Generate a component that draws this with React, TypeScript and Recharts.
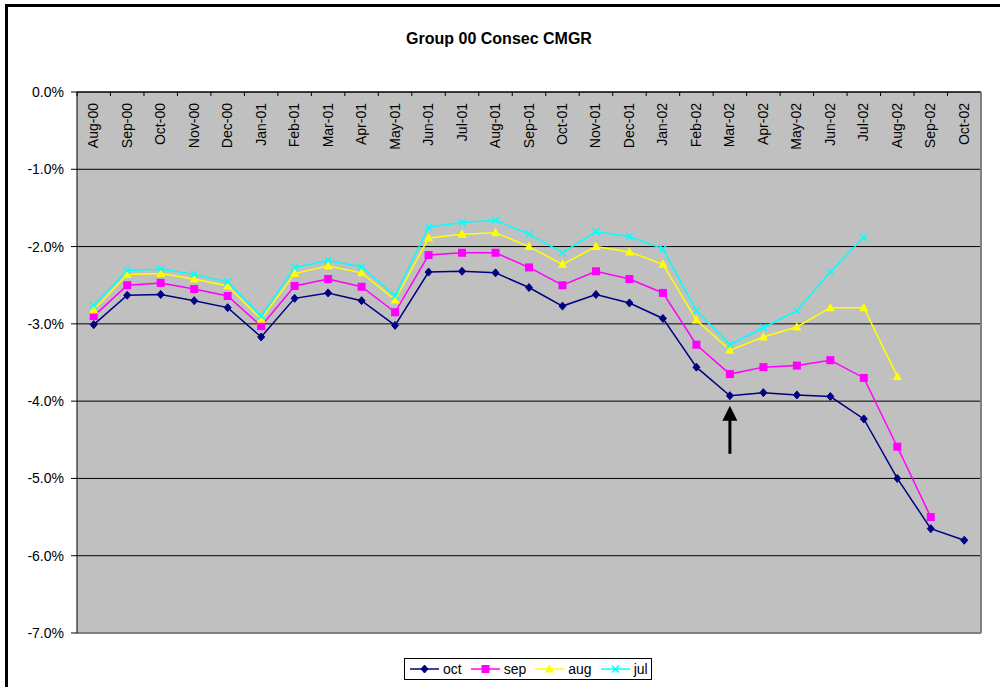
import React from 'react';
import {
  LineChart,
  Line,
  XAxis,
  YAxis,
  CartesianGrid,
  ReferenceLine,
  ReferenceDot,
} from 'recharts';

const months = [
  'Aug-00', 'Sep-00', 'Oct-00', 'Nov-00', 'Dec-00', 'Jan-01', 'Feb-01', 'Mar-01', 'Apr-01',
  'May-01', 'Jun-01', 'Jul-01', 'Aug-01', 'Sep-01', 'Oct-01', 'Nov-01', 'Dec-01', 'Jan-02',
  'Feb-02', 'Mar-02', 'Apr-02', 'May-02', 'Jun-02', 'Jul-02', 'Aug-02', 'Sep-02', 'Oct-02',
];

// CMGR in percent
const octValues = [
  -3.01, -2.63, -2.62, -2.70, -2.79, -3.17, -2.67, -2.60, -2.70, -3.02, -2.33, -2.32, -2.34,
  -2.53, -2.77, -2.62, -2.73, -2.93, -3.56, -3.93, -3.89, -3.92, -3.94, -4.23, -5.00, -5.65, -5.80,
];
const sepValues = [
  -2.90, -2.50, -2.47, -2.55, -2.64, -3.03, -2.51, -2.42, -2.52, -2.85, -2.11, -2.08, -2.08,
  -2.27, -2.50, -2.32, -2.42, -2.60, -3.27, -3.65, -3.56, -3.54, -3.47, -3.70, -4.59, -5.50, null,
];
const augValues = [
  -2.82, -2.36, -2.35, -2.42, -2.51, -2.94, -2.35, -2.25, -2.34, -2.69, -1.89, -1.84, -1.82,
  -2.00, -2.23, -2.00, -2.07, -2.23, -2.95, -3.34, -3.17, -3.04, -2.79, -2.79, -3.68, null, null,
];
const julValues = [
  -2.76, -2.31, -2.29, -2.36, -2.46, -2.90, -2.27, -2.18, -2.26, -2.64, -1.75, -1.69, -1.66,
  -1.84, -2.08, -1.81, -1.87, -2.03, -2.83, -3.27, -3.05, -2.83, -2.33, -1.88, null, null, null,
];

const yTicks = [0, -1, -2, -3, -4, -5, -6, -7];

const seriesNames = ['oct', 'sep', 'aug', 'jul'];
const seriesColors = ['#000080', '#FF00FF', '#FFFF00', '#00FFFF'];

const data = months.map((m, i) => ({
  month: m,
  oct: octValues[i],
  sep: sepValues[i],
  aug: augValues[i],
  jul: julValues[i],
}));

const FONT = "'Liberation Sans', Arial, sans-serif";
const PLOT_LEFT = 77;
const PLOT_RIGHT = 981;
const PLOT_TOP = 92;
const HALF_BAND = (PLOT_RIGHT - PLOT_LEFT) / months.length / 2;

const Marker = ({ kind, cx, cy }: { kind: string; cx: number; cy: number }) => {
  if (kind === 'oct') {
    return <polygon points={`${cx},${cy - 4} ${cx + 3.5},${cy} ${cx},${cy + 4} ${cx - 3.5},${cy}`} fill="#000080" stroke="#000080" />;
  }
  if (kind === 'sep') {
    return <rect x={cx - 4} y={cy - 4} width={8} height={8} fill="#FF00FF" />;
  }
  if (kind === 'aug') {
    return <polygon points={`${cx},${cy - 5} ${cx + 4.5},${cy + 3.5} ${cx - 4.5},${cy + 3.5}`} fill="#FFFF00" />;
  }
  return (
    <g stroke="#00FFFF" strokeWidth={1.5}>
      <line x1={cx - 3.5} y1={cy - 3.5} x2={cx + 3.5} y2={cy + 3.5} />
      <line x1={cx - 3.5} y1={cy + 3.5} x2={cx + 3.5} y2={cy - 3.5} />
    </g>
  );
};

const makeDot = (kind: string) => (props: any) => {
  const { cx, cy, value, index } = props;
  if (value == null || cy == null) return <g key={`${kind}-${index}`} />;
  return (
    <g key={`${kind}-${index}`}>
      <Marker kind={kind} cx={cx} cy={cy} />
    </g>
  );
};

const MonthTick = (props: any) => {
  const { x, payload } = props;
  return (
    <g>
      <line x1={x - HALF_BAND} y1={PLOT_TOP} x2={x - HALF_BAND} y2={PLOT_TOP + 4} stroke="#000" />
      <text
        transform={`translate(${x + 4.5},${PLOT_TOP + 11}) rotate(-90)`}
        textAnchor="end"
        fontSize={14}
        fontFamily={FONT}
        fill="#000"
      >
        {payload.value}
      </text>
    </g>
  );
};

const Arrow = (props: any) => {
  const { cx, cy } = props;
  return (
    <g fill="#000">
      <polygon points={`${cx},${cy} ${cx + 7.5},${cy + 15} ${cx - 7.5},${cy + 15}`} />
      <rect x={cx - 1.5} y={cy + 14} width={3} height={34} />
    </g>
  );
};

export default function App() {
  return (
    <div style={{ position: 'absolute', left: 0, top: 0, width: 1000, height: 687, background: '#fff', overflow: 'hidden', fontFamily: FONT }}>
      <div
        style={{
          position: 'absolute',
          left: 5,
          top: 4,
          width: 1000,
          height: 700,
          borderTop: '3px solid #000',
          borderLeft: '3px solid #000',
        }}
      />
      <div
        style={{
          position: 'absolute',
          left: 0,
          width: 998,
          top: 30,
          textAlign: 'center',
          fontWeight: 'bold',
          fontSize: 16,
          color: '#000',
        }}
      >
        Group 00 Consec CMGR
      </div>
      <div style={{ position: 'absolute', left: 0, top: 0 }}>
        <LineChart width={1000} height={687} data={data} margin={{ top: 90, right: 18, bottom: 54, left: 0 }}>
          <CartesianGrid vertical={false} stroke="#000" fill="#C0C0C0" fillOpacity={1} />
          <XAxis
            dataKey="month"
            orientation="top"
            height={2}
            padding={{ left: HALF_BAND, right: HALF_BAND }}
            axisLine={{ stroke: '#000' }}
            tickLine={false}
            tick={<MonthTick />}
            interval={0}
          />
          <YAxis
            domain={[-7, 0]}
            ticks={yTicks}
            width={77}
            tickSize={6}
            tickMargin={7}
            allowDataOverflow
            axisLine={{ stroke: '#000' }}
            tickLine={{ stroke: '#000' }}
            tick={{ fontSize: 14, fill: '#000', fontFamily: FONT }}
            tickFormatter={(v: number) => `${v.toFixed(1)}%`}
          />
          <YAxis
            yAxisId="right"
            orientation="right"
            domain={[-7, 0]}
            width={1}
            tick={false}
            tickLine={false}
            axisLine={{ stroke: '#808080', strokeWidth: 2 }}
          />
          <ReferenceLine y={-7} stroke="#808080" strokeWidth={2} />
          {seriesNames.map((name, i) => (
            <Line
              key={name}
              type="linear"
              dataKey={name}
              stroke={seriesColors[i]}
              strokeWidth={1.5}
              dot={makeDot(name)}
              activeDot={false}
              isAnimationActive={false}
            />
          ))}
          <ReferenceDot x="Mar-02" y={-4.06} r={0} shape={<Arrow />} ifOverflow="visible" />
        </LineChart>
      </div>
      <div
        style={{
          position: 'absolute',
          left: 404,
          top: 658,
          width: 248,
          height: 22,
          boxSizing: 'border-box',
          border: '1px solid #000',
          background: '#fff',
          display: 'flex',
          alignItems: 'center',
          paddingLeft: 5,
          fontSize: 14,
          color: '#000',
        }}
      >
        {seriesNames.map((name, i) => (
          <div key={name} style={{ display: 'flex', alignItems: 'center', marginRight: 9 }}>
            <svg width={29} height={12} style={{ marginRight: 4 }}>
              <line x1={0} y1={6} x2={29} y2={6} stroke={seriesColors[i]} strokeWidth={1.5} />
              <Marker kind={name} cx={14.5} cy={6} />
            </svg>
            <span>{name}</span>
          </div>
        ))}
      </div>
    </div>
  );
}
